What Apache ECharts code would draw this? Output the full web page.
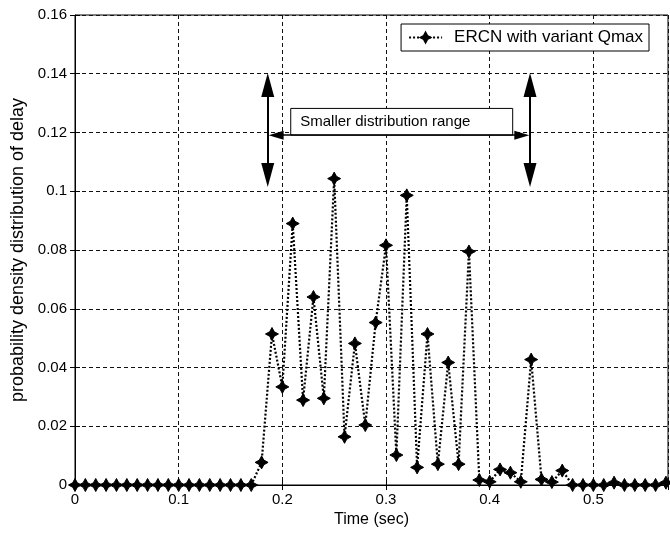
<!DOCTYPE html>
<html>
<head>
<meta charset="utf-8">
<script src="https://cdn.jsdelivr.net/npm/echarts@6/dist/echarts.min.js"></script>
<style>
  html, body { margin: 0; padding: 0; background: #fff; }
  #chart { width: 670px; height: 540px; }
</style>
</head>
<body>
<div id="chart"></div>
<script>
// Delay samples (s) and their probability density
const timeSec = [
  0.00, 0.01, 0.02, 0.03, 0.04, 0.05, 0.06, 0.07, 0.08, 0.09,
  0.10, 0.11, 0.12, 0.13, 0.14, 0.15, 0.16, 0.17, 0.18, 0.19,
  0.20, 0.21, 0.22, 0.23, 0.24, 0.25, 0.26, 0.27, 0.28, 0.29,
  0.30, 0.31, 0.32, 0.33, 0.34, 0.35, 0.36, 0.37, 0.38, 0.39,
  0.40, 0.41, 0.42, 0.43, 0.44, 0.45, 0.46, 0.47, 0.48, 0.49,
  0.50, 0.51, 0.52, 0.53, 0.54, 0.55, 0.56, 0.57
];
const delayDensity = [
  0, 0, 0, 0, 0, 0, 0, 0, 0, 0,
  0, 0, 0, 0, 0, 0, 0, 0, 0.0077, 0.0514,
  0.0334, 0.0890, 0.0289, 0.0640, 0.0295, 0.1043, 0.0164, 0.0482, 0.0204, 0.0553,
  0.0816, 0.0102, 0.0986, 0.0060, 0.0514, 0.0071, 0.0417, 0.0071, 0.0795, 0.0017,
  0.0011, 0.0053, 0.0042, 0.0011, 0.0427, 0.0019, 0.0010, 0.0049, 0, 0,
  0, 0, 0.0008, 0, 0, 0, 0, 0.0008
];
const seriesName = 'ERCN with variant Qmax';
const rangeLabel = 'Smaller distribution range';
const xAxisTitle = 'Time (sec)';
const yAxisTitle = 'probability density distribution of delay';

// Range annotation: vertical arrows at the range edges, a horizontal span arrow and a text box
const rangeLeft = 0.1859, rangeRight = 0.4389;
const vArrowTop = 0.1362, vArrowBottom = 0.1055;
const spanY = 0.1191, spanLeft = 0.1940, spanRight = 0.4310;
const boxX = [0.2081, 0.4222], boxY = [0.1191, 0.1282];

const FONT = '"Liberation Sans", Arial, Helvetica, sans-serif';
const STAR = 'path://M0,-10 L3.5,-3.5 L10,0 L3.5,3.5 L0,10 L-3.5,3.5 L-10,0 L-3.5,-3.5 Z';

const chart = echarts.init(document.getElementById('chart'), null, { renderer: 'canvas' });

const gridLine = { show: true, lineStyle: { color: '#111', width: 1, type: [4, 3] } };

chart.setOption({
  animation: false,
  backgroundColor: '#fff',
  textStyle: { fontFamily: FONT, color: '#000' },
  grid: { left: 75, right: 2, top: 15, bottom: 55, show: true, borderColor: '#000', borderWidth: 1, backgroundColor: 'transparent' },
  legend: {
    data: [seriesName],
    right: 21, top: 24,
    orient: 'horizontal',
    backgroundColor: '#fff',
    borderColor: '#000', borderWidth: 1, borderRadius: 0,
    padding: [5, 6, 5, 7],
    itemWidth: 33, itemHeight: 12,
    textStyle: { fontFamily: FONT, fontSize: 17, color: '#000', padding: [0, 0, 0, 7] }
  },
  xAxis: [
    {
      type: 'value', min: 0, max: 0.572, interval: 0.1,
      name: xAxisTitle, nameLocation: 'middle', nameGap: 27,
      nameTextStyle: { fontFamily: FONT, fontSize: 16, color: '#000' },
      axisLine: { show: true, onZero: false, lineStyle: { color: '#000', width: 1 } },
      axisTick: { show: true, inside: true, length: 5, lineStyle: { color: '#000' } },
      axisLabel: { fontFamily: FONT, fontSize: 15, color: '#000', margin: 7, showMaxLabel: false,
                   formatter: v => String(+v.toFixed(2)) },
      splitLine: gridLine
    },
    {
      type: 'value', min: 0, max: 0.572, interval: 0.1, position: 'top',
      axisLine: { show: false },
      axisTick: { show: true, inside: true, length: 5, lineStyle: { color: '#000' } },
      axisLabel: { show: false }, splitLine: { show: false }
    }
  ],
  yAxis: [
    {
      type: 'value', min: 0, max: 0.16, interval: 0.02,
      name: yAxisTitle, nameLocation: 'middle', nameGap: 47,
      nameTextStyle: { fontFamily: FONT, fontSize: 18, color: '#000' },
      axisLine: { show: true, onZero: false, lineStyle: { color: '#000', width: 1 } },
      axisTick: { show: true, inside: true, length: 5, lineStyle: { color: '#000' } },
      axisLabel: { fontFamily: FONT, fontSize: 15, color: '#000', margin: 8,
                   formatter: v => String(+v.toFixed(2)) },
      splitLine: gridLine
    },
    {
      type: 'value', min: 0, max: 0.16, interval: 0.02, position: 'right',
      axisLine: { show: false },
      axisTick: { show: true, inside: true, length: 5, lineStyle: { color: '#000' } },
      axisLabel: { show: false }, splitLine: { show: false }
    }
  ],
  series: [
    {
      name: seriesName,
      type: 'line',
      data: timeSec.map((t, i) => [t, delayDensity[i]]),
      clip: false,
      symbol: STAR, symbolSize: 13, showSymbol: true,
      itemStyle: { color: '#000', borderColor: '#000', borderWidth: 1 },
      lineStyle: { color: '#000', width: 2.2, type: [2, 2] },
      z: 5
    },
    {
      // vertical double arrows marking the range edges
      name: 'range-edges', type: 'line', data: [],
      markLine: {
        silent: true, animation: false,
        symbol: ['triangle', 'triangle'], symbolSize: [13, 24],
        lineStyle: { color: '#000', width: 2, type: 'solid' },
        label: { show: false },
        data: [
          [{ coord: [rangeLeft, vArrowTop] }, { coord: [rangeLeft, vArrowBottom] }],
          [{ coord: [rangeRight, vArrowTop] }, { coord: [rangeRight, vArrowBottom] }]
        ]
      }
    },
    {
      // horizontal span arrow and its caption box
      name: 'range-span', type: 'line', data: [],
      markLine: {
        silent: true, animation: false,
        symbol: ['triangle', 'triangle'], symbolSize: [9, 15],
        lineStyle: { color: '#000', width: 1.5, type: 'solid' },
        label: { show: false },
        data: [[{ coord: [spanLeft, spanY] }, { coord: [spanRight, spanY] }]]
      },
      markArea: {
        silent: true,
        itemStyle: { color: '#fff', borderColor: '#000', borderWidth: 1 },
        label: { show: true, position: 'insideLeft', distance: 10, fontFamily: FONT, fontSize: 15, color: '#000' },
        data: [[{ name: rangeLabel, coord: [boxX[0], boxY[1]] }, { coord: [boxX[1], boxY[0]] }]]
      }
    }
  ]
});
</script>
</body>
</html>
